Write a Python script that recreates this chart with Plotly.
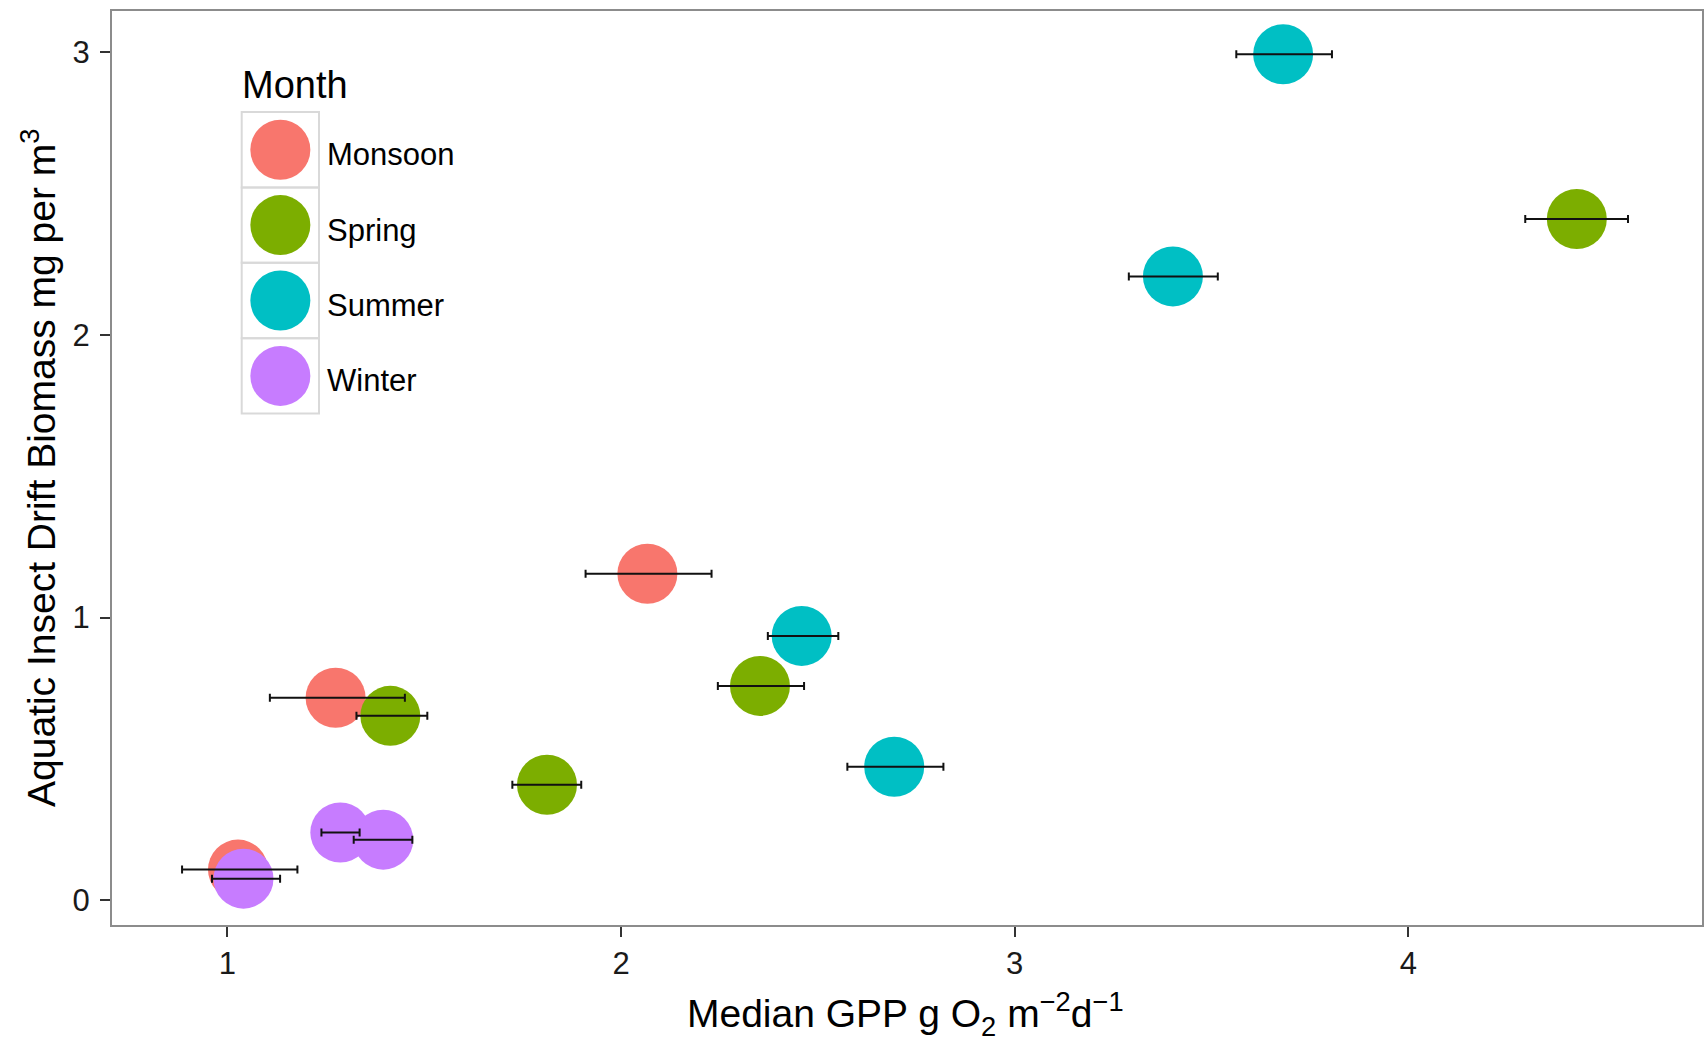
import plotly.graph_objects as go

# Season groups and their colours
seasons = ["Monsoon", "Spring", "Summer", "Winter"]
colors = ["#F8766D", "#7CAE00", "#00BFC4", "#C77CFF"]

# Median GPP (x), its range (x_lo, x_hi) and drift biomass (y) per season
monsoon_x = [1.027, 1.275, 2.067]
monsoon_lo = [0.885, 1.108, 1.910]
monsoon_hi = [1.178, 1.451, 2.230]
monsoon_y = [0.108, 0.716, 1.155]

spring_x = [1.414, 1.812, 2.353, 4.428]
spring_lo = [1.328, 1.724, 2.246, 4.297]
spring_hi = [1.508, 1.899, 2.465, 4.558]
spring_y = [0.652, 0.408, 0.758, 2.410]

summer_x = [2.459, 2.694, 3.402, 3.682]
summer_lo = [2.373, 2.575, 3.290, 3.563]
summer_hi = [2.552, 2.819, 3.516, 3.806]
summer_y = [0.935, 0.472, 2.207, 2.993]

winter_x = [1.041, 1.287, 1.396]
winter_lo = [0.961, 1.239, 1.321]
winter_hi = [1.134, 1.336, 1.470]
winter_y = [0.076, 0.239, 0.214]

x_ticks = [1, 2, 3, 4]
y_ticks = [0, 1, 2, 3]

groups = [
    (monsoon_x, monsoon_lo, monsoon_hi, monsoon_y),
    (spring_x, spring_lo, spring_hi, spring_y),
    (summer_x, summer_lo, summer_hi, summer_y),
    (winter_x, winter_lo, winter_hi, winter_y),
]

FONT = "Liberation Sans, Arial, sans-serif"
W, H = 1707, 1043
ML, MR, MT, MB = 112, 3, 11, 118

fig = go.Figure()

# points first
for name, col, (gx, glo, ghi, gy) in zip(seasons, colors, groups):
    fig.add_trace(go.Scatter(
        x=gx, y=gy, mode="markers", name=name, showlegend=False,
        marker=dict(size=60, color=col, line=dict(width=0)),
    ))

# horizontal range bars drawn on top of every point
for name, (gx, glo, ghi, gy) in zip(seasons, groups):
    fig.add_trace(go.Scatter(
        x=gx, y=gy, mode="markers", showlegend=False, hoverinfo="skip",
        marker=dict(size=1, opacity=0),
        error_x=dict(
            type="data", symmetric=False,
            array=[h - v for h, v in zip(ghi, gx)],
            arrayminus=[v - l for l, v in zip(glo, gx)],
            color="#111111", thickness=2, width=4,
        ),
    ))

axis_common = dict(
    showgrid=False, zeroline=False,
    showline=True, mirror=True, linecolor="#8c8c8c", linewidth=2,
    ticks="outside", ticklen=10, tickwidth=2, tickcolor="#333333",
    tickfont=dict(family=FONT, size=31, color="#1a1a1a"),
)

fig.update_xaxes(range=[0.707, 4.746], tickvals=x_ticks, **axis_common)
fig.update_yaxes(range=[-0.088, 3.146], tickvals=y_ticks, ticklabelstandoff=4, **axis_common)

shapes = []
annotations = []

# legend: title, keyed boxes with large dots, labels
key_left = 129.7
key_w = 77.3
key_top = 101.0
key_h = 75.4
dot_d = 60
for i, (name, col) in enumerate(zip(seasons, colors)):
    top = key_top + i * key_h
    shapes.append(dict(
        type="rect", xref="paper", yref="paper",
        xsizemode="pixel", ysizemode="pixel", xanchor=0, yanchor=1,
        x0=key_left, x1=key_left + key_w, y0=-top, y1=-(top + key_h),
        line=dict(color="#d9d9d9", width=2), fillcolor="rgba(0,0,0,0)",
    ))
    cx = key_left + key_w / 2
    cy = top + key_h / 2
    shapes.append(dict(
        type="circle", xref="paper", yref="paper",
        xsizemode="pixel", ysizemode="pixel", xanchor=0, yanchor=1,
        x0=cx - dot_d / 2, x1=cx + dot_d / 2,
        y0=-(cy - dot_d / 2), y1=-(cy + dot_d / 2),
        line=dict(width=0), fillcolor=col,
    ))
    annotations.append(dict(
        text=name, xref="paper", yref="paper", x=0, y=1,
        xshift=key_left + key_w + 6, yshift=-(cy + 5),
        xanchor="left", yanchor="middle", showarrow=False,
        font=dict(family=FONT, size=31, color="#000000"),
    ))

annotations.append(dict(
    text="Month", xref="paper", yref="paper", x=0, y=1,
    xshift=key_left - 2, yshift=-(85 - MT),
    xanchor="left", yanchor="middle", showarrow=False,
    font=dict(family=FONT, size=38, color="#000000"),
))

# axis titles
annotations.append(dict(
    text="Median GPP g O<sub>2</sub> m<sup>\u22122</sup>d<sup>\u22121</sup>",
    xref="paper", yref="paper", x=0.5, y=0,
    xshift=(906 - ML) - (W - ML - MR) / 2, yshift=-(1014 - (H - MB)),
    xanchor="center", yanchor="middle", showarrow=False,
    font=dict(family=FONT, size=39, color="#000000"),
))
annotations.append(dict(
    text="Aquatic Insect Drift Biomass mg per m<sup>3</sup>",
    xref="paper", yref="paper", x=0, y=0.5, textangle=-90,
    xshift=-(ML - 38), yshift=((H - MB) - 468) - (H - MT - MB) / 2,
    xanchor="center", yanchor="middle", showarrow=False,
    font=dict(family=FONT, size=39, color="#000000"),
))

fig.update_layout(
    width=W, height=H,
    margin=dict(l=ML, r=MR, t=MT, b=MB, pad=0),
    paper_bgcolor="white", plot_bgcolor="white",
    shapes=shapes, annotations=annotations,
    showlegend=False,
    font=dict(family=FONT),
)

fig.write_html("out.html")
